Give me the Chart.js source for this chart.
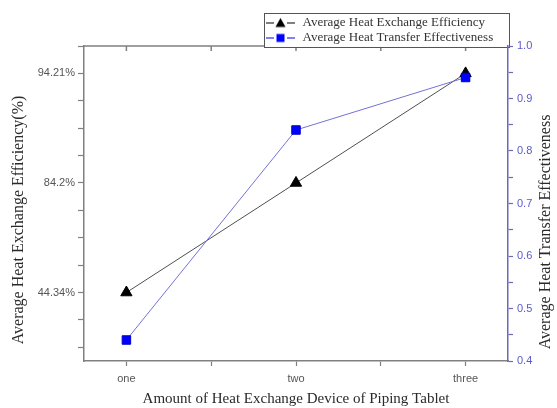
<!DOCTYPE html>
<html>
<head>
<meta charset="utf-8">
<script src="https://cdn.jsdelivr.net/npm/chart.js@4/dist/chart.umd.min.js"></script>
<style>
  html, body { margin: 0; padding: 0; background: #fff; }
  #wrap { width: 557px; height: 408px; }
</style>
</head>
<body>
<div id="wrap"><canvas id="chart" width="557" height="408"></canvas></div>
<script>
var categories = ['one', 'two', 'three'];
var efficiency = [44.34, 84.2, 94.21];          // left axis (%)
var effectiveness = [0.44, 0.84, 0.94];         // right axis
var efficiencyTicks = ['44.34%', '84.2%', '94.21%'];

var seriesNames = ['Average Heat Exchange Efficiency', 'Average Heat Transfer Effectiveness'];
var xTitle = 'Amount of Heat Exchange Device of Piping Tablet';
var yTitle = 'Average Heat Exchange Efficiency(%)';
var y1Title = 'Average Heat Transfer Effectiveness';

// left axis is a stretched category axis: half-steps, labels every 8
var yLabels = [];
for (var i = 0; i < 24; i++) yLabels.push('');
efficiencyTicks.forEach(function(t, k) { yLabels[5 + 8 * k] = t; });

function legendIcon(color, shape) {
    var c = document.createElement('canvas');
    c.width = 30; c.height = 12;
    var g = c.getContext('2d');
    g.strokeStyle = color; g.lineWidth = 1.2;
    g.beginPath();
    g.moveTo(0, 6.5); g.lineTo(8, 6.5);
    g.moveTo(21, 6.5); g.lineTo(29, 6.5);
    g.stroke();
    g.fillStyle = color;
    if (shape === 'triangle') {
        g.beginPath(); g.moveTo(14.5, 1.5); g.lineTo(19.5, 10.5); g.lineTo(9.5, 10.5); g.closePath(); g.fill();
    } else {
        g.fillRect(10.5, 2.5, 8, 8);
    }
    return c;
}
var icons = [legendIcon('#000', 'triangle'), legendIcon('#0000ff', 'rect')];

var framePlugin = {
    id: 'frame',
    afterLayout: function(chart) {
        var lg = chart.legend;
        if (!lg) return;
        var dx = 264 - lg.left, dy = 14 - lg.top;
        lg.left += dx; lg.right += dx; lg.top += dy; lg.bottom += dy;
    },
    beforeDraw: function(chart) {
        var ctx = chart.ctx, a = chart.chartArea, x = chart.scales.x;
        ctx.save();
        ctx.strokeStyle = '#808080';
        ctx.lineWidth = 1.5;
        ctx.beginPath();
        ctx.moveTo(a.left, a.top); ctx.lineTo(a.right, a.top);
        x.ticks.forEach(function(t) {
            var px = x.getPixelForValue(t.value);
            ctx.moveTo(px, a.top); ctx.lineTo(px, a.top + 5);
        });
        ctx.stroke();
        // legend frame
        ctx.fillStyle = '#fff';
        ctx.fillRect(264, 13, 245, 34);
        ctx.strokeStyle = '#555';
        ctx.lineWidth = 1;
        ctx.strokeRect(264.5, 13.5, 245, 34);
        ctx.restore();
    },
    afterDraw: function(chart) {
        var ctx = chart.ctx;
        [[yTitle, 19, 220], [y1Title, 546, 232]].forEach(function(t) {
            ctx.save();
            ctx.font = '16px "Liberation Serif"';
            ctx.fillStyle = '#2a2a2a';
            ctx.textAlign = 'center';
            ctx.textBaseline = 'middle';
            ctx.translate(t[1], t[2]);
            ctx.rotate(-Math.PI / 2);
            ctx.fillText(t[0], 0, 0);
            ctx.restore();
        });
    }
};

var tickFont = { family: '"Liberation Sans", Arial, sans-serif', size: 11 };

new Chart(document.getElementById('chart'), {
    type: 'line',
    data: {
        datasets: [{
            label: seriesNames[0],
            data: categories.map(function(c, i) { return { x: i + 1, y: efficiency[i] + '%' }; }),
            yAxisID: 'y',
            borderColor: '#505050',
            borderWidth: 1,
            pointStyle: 'triangle',
            pointRadius: 6.5,
            pointBackgroundColor: '#000',
            pointBorderColor: '#000',
            order: 1
        }, {
            label: seriesNames[1],
            data: categories.map(function(c, i) { return { x: i + 1, y: effectiveness[i] }; }),
            yAxisID: 'y1',
            borderColor: '#7272d8',
            borderWidth: 1,
            pointStyle: 'rect',
            pointRadius: 6,
            pointBackgroundColor: '#0000ff',
            pointBorderColor: '#0000c8',
            order: 0
        }]
    },
    options: {
        responsive: false,
        animation: false,
        layout: { padding: { top: 46, left: 0, right: 0, bottom: 0 } },
        plugins: {
            tooltip: { enabled: false },
            legend: {
                position: 'chartArea',
                align: 'start',
                labels: {
                    usePointStyle: true,
                    pointStyleWidth: 30,
                    padding: 2,
                    color: '#333',
                    font: { family: '"Liberation Serif", serif', size: 13 },
                    sort: function(a, b) { return a.datasetIndex - b.datasetIndex; },
                    generateLabels: function(chart) {
                        var items = Chart.defaults.plugins.legend.labels.generateLabels(chart);
                        items.forEach(function(it) { it.pointStyle = icons[it.datasetIndex]; });
                        return items;
                    }
                }
            }
        },
        scales: {
            x: {
                type: 'linear',
                position: 'bottom',
                min: 0.75,
                max: 3.25,
                afterFit: function(s) { s.height = 47; },
                afterBuildTicks: function(s) {
                    s.ticks = [1, 1.5, 2, 2.5, 3].map(function(v) { return { value: v }; });
                },
                grid: { drawOnChartArea: false, tickLength: 5, tickColor: '#808080', tickWidth: 1.2 },
                border: { color: '#808080', width: 1.5 },
                ticks: {
                    autoSkip: false,
                    maxRotation: 0,
                    padding: 6,
                    color: '#555',
                    font: tickFont,
                    callback: function(v) { return Number.isInteger(v) ? categories[v - 1] : ''; }
                },
                title: {
                    display: true,
                    text: xTitle,
                    color: '#2a2a2a',
                    font: { family: '"Liberation Serif", serif', size: 15 },
                    padding: { top: 0, bottom: 0 }
                }
            },
            y: {
                type: 'category',
                position: 'left',
                reverse: true,
                labels: yLabels,
                afterFit: function(s) { s.width = 84; },
                grid: {
                    drawOnChartArea: false,
                    tickLength: 6,
                    tickWidth: 1.2,
                    tickColor: function(ctx) { return ctx.index % 2 ? '#808080' : 'rgba(0,0,0,0)'; }
                },
                border: { color: '#808080', width: 1.5 },
                ticks: { autoSkip: false, padding: 3, color: '#555', font: tickFont }
            },
            y1: {
                type: 'linear',
                position: 'right',
                min: 0.4,
                max: 1.0,
                afterFit: function(s) { s.width = 49; },
                grid: { drawOnChartArea: false, tickLength: 5, tickWidth: 1.2, tickColor: '#6a6ab8' },
                border: { color: '#6a6ab8', width: 1.5 },
                ticks: {
                    stepSize: 0.05,
                    autoSkip: false,
                    padding: 4,
                    color: '#5a5ac8',
                    font: tickFont,
                    callback: function(v) {
                        var r = Math.round(v * 100);
                        return r % 10 === 0 ? (r / 100).toFixed(1) : '';
                    }
                }
            }
        }
    },
    plugins: [framePlugin]
});
</script>
</body>
</html>
